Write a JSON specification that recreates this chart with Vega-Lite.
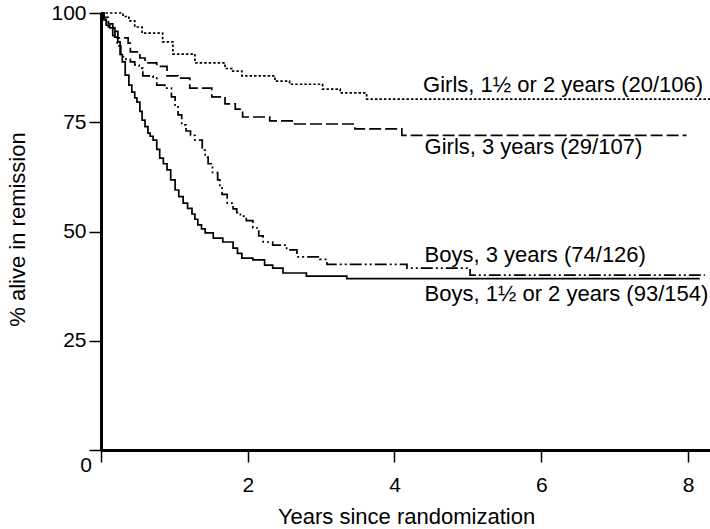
{
  "$schema": "https://vega.github.io/schema/vega-lite/v6.json",
  "autosize": "none",
  "width": 609,
  "height": 437,
  "padding": {"left": 101, "top": 13, "right": 0, "bottom": 79},
  "background": "white",
  "config": {
    "view": {"stroke": null},
    "font": "Liberation Sans",
    "axis": {"domainColor": "black", "tickColor": "black", "labelColor": "black", "titleColor": "black", "grid": false}
  },
  "layer": [
    {
      "data": {
        "values": [
          {"s": "G12", "x": 0, "y": 100}, {"s": "G12", "x": 0.30, "y": 99.2}, {"s": "G12", "x": 0.38, "y": 98.2}, {"s": "G12", "x": 0.46, "y": 96.8}, {"s": "G12", "x": 0.56, "y": 95.4}, {"s": "G12", "x": 0.84, "y": 93.4}, {"s": "G12", "x": 0.98, "y": 90.6}, {"s": "G12", "x": 1.28, "y": 88.6}, {"s": "G12", "x": 1.69, "y": 87.3}, {"s": "G12", "x": 1.78, "y": 86.7}, {"s": "G12", "x": 1.92, "y": 85.6}, {"s": "G12", "x": 2.37, "y": 84.4}, {"s": "G12", "x": 2.57, "y": 83.7}, {"s": "G12", "x": 3.02, "y": 82.6}, {"s": "G12", "x": 3.26, "y": 81.7}, {"s": "G12", "x": 3.62, "y": 80.3}, {"s": "G12", "x": 8.3, "y": 80.3},
          {"s": "G3", "x": 0, "y": 100}, {"s": "G3", "x": 0.04, "y": 99.0}, {"s": "G3", "x": 0.10, "y": 97.5}, {"s": "G3", "x": 0.16, "y": 95.8}, {"s": "G3", "x": 0.23, "y": 94.3}, {"s": "G3", "x": 0.37, "y": 93.1}, {"s": "G3", "x": 0.40, "y": 91.1}, {"s": "G3", "x": 0.53, "y": 89.7}, {"s": "G3", "x": 0.60, "y": 88.6}, {"s": "G3", "x": 0.76, "y": 87.8}, {"s": "G3", "x": 0.90, "y": 85.6}, {"s": "G3", "x": 1.05, "y": 85.1}, {"s": "G3", "x": 1.21, "y": 82.8}, {"s": "G3", "x": 1.51, "y": 80.8}, {"s": "G3", "x": 1.69, "y": 79.2}, {"s": "G3", "x": 1.83, "y": 78.0}, {"s": "G3", "x": 1.93, "y": 76.2}, {"s": "G3", "x": 2.30, "y": 75.3}, {"s": "G3", "x": 2.64, "y": 74.6}, {"s": "G3", "x": 3.46, "y": 73.5}, {"s": "G3", "x": 4.10, "y": 72.0}, {"s": "G3", "x": 7.98, "y": 72.0},
          {"s": "B3", "x": 0, "y": 100}, {"s": "B3", "x": 0.04, "y": 98.5}, {"s": "B3", "x": 0.10, "y": 96.8}, {"s": "B3", "x": 0.16, "y": 94.8}, {"s": "B3", "x": 0.22, "y": 92.5}, {"s": "B3", "x": 0.27, "y": 90.0}, {"s": "B3", "x": 0.34, "y": 89.4}, {"s": "B3", "x": 0.40, "y": 88.8}, {"s": "B3", "x": 0.46, "y": 88.1}, {"s": "B3", "x": 0.52, "y": 87.4}, {"s": "B3", "x": 0.57, "y": 85.6}, {"s": "B3", "x": 0.71, "y": 85.1}, {"s": "B3", "x": 0.76, "y": 83.5}, {"s": "B3", "x": 0.87, "y": 82.8}, {"s": "B3", "x": 0.96, "y": 80.8}, {"s": "B3", "x": 1.01, "y": 78.9}, {"s": "B3", "x": 1.05, "y": 76.7}, {"s": "B3", "x": 1.10, "y": 74.4}, {"s": "B3", "x": 1.16, "y": 73.0}, {"s": "B3", "x": 1.22, "y": 72.0}, {"s": "B3", "x": 1.28, "y": 70.9}, {"s": "B3", "x": 1.38, "y": 68.6}, {"s": "B3", "x": 1.42, "y": 67.0}, {"s": "B3", "x": 1.46, "y": 65.5}, {"s": "B3", "x": 1.52, "y": 63.5}, {"s": "B3", "x": 1.59, "y": 61.8}, {"s": "B3", "x": 1.62, "y": 60.0}, {"s": "B3", "x": 1.65, "y": 58.5}, {"s": "B3", "x": 1.72, "y": 56.5}, {"s": "B3", "x": 1.80, "y": 55.2}, {"s": "B3", "x": 1.85, "y": 54.3}, {"s": "B3", "x": 1.90, "y": 53.5}, {"s": "B3", "x": 1.98, "y": 52.5}, {"s": "B3", "x": 2.07, "y": 50.8}, {"s": "B3", "x": 2.15, "y": 49.0}, {"s": "B3", "x": 2.21, "y": 47.6}, {"s": "B3", "x": 2.34, "y": 46.9}, {"s": "B3", "x": 2.53, "y": 45.8}, {"s": "B3", "x": 2.67, "y": 44.2}, {"s": "B3", "x": 2.98, "y": 43.6}, {"s": "B3", "x": 3.08, "y": 42.5}, {"s": "B3", "x": 4.17, "y": 41.6}, {"s": "B3", "x": 5.03, "y": 40.0}, {"s": "B3", "x": 8.23, "y": 40.0},
          {"s": "B12", "x": 0, "y": 100}, {"s": "B12", "x": 0.03, "y": 98.5}, {"s": "B12", "x": 0.07, "y": 97.2}, {"s": "B12", "x": 0.12, "y": 96.6}, {"s": "B12", "x": 0.19, "y": 94.5}, {"s": "B12", "x": 0.23, "y": 93.4}, {"s": "B12", "x": 0.26, "y": 90.5}, {"s": "B12", "x": 0.29, "y": 88.8}, {"s": "B12", "x": 0.33, "y": 85.8}, {"s": "B12", "x": 0.38, "y": 83.5}, {"s": "B12", "x": 0.42, "y": 81.9}, {"s": "B12", "x": 0.46, "y": 80.6}, {"s": "B12", "x": 0.49, "y": 79.6}, {"s": "B12", "x": 0.53, "y": 77.5}, {"s": "B12", "x": 0.56, "y": 75.5}, {"s": "B12", "x": 0.60, "y": 74.0}, {"s": "B12", "x": 0.64, "y": 72.5}, {"s": "B12", "x": 0.67, "y": 71.8}, {"s": "B12", "x": 0.71, "y": 70.9}, {"s": "B12", "x": 0.76, "y": 68.8}, {"s": "B12", "x": 0.80, "y": 66.8}, {"s": "B12", "x": 0.85, "y": 65.5}, {"s": "B12", "x": 0.90, "y": 64.1}, {"s": "B12", "x": 0.95, "y": 61.8}, {"s": "B12", "x": 1.01, "y": 59.5}, {"s": "B12", "x": 1.06, "y": 58.0}, {"s": "B12", "x": 1.12, "y": 56.5}, {"s": "B12", "x": 1.18, "y": 55.3}, {"s": "B12", "x": 1.24, "y": 54.0}, {"s": "B12", "x": 1.28, "y": 52.8}, {"s": "B12", "x": 1.32, "y": 51.5}, {"s": "B12", "x": 1.37, "y": 50.6}, {"s": "B12", "x": 1.42, "y": 49.7}, {"s": "B12", "x": 1.53, "y": 48.5}, {"s": "B12", "x": 1.66, "y": 47.6}, {"s": "B12", "x": 1.80, "y": 46.2}, {"s": "B12", "x": 1.86, "y": 45.0}, {"s": "B12", "x": 1.92, "y": 43.9}, {"s": "B12", "x": 2.07, "y": 43.5}, {"s": "B12", "x": 2.23, "y": 42.3}, {"s": "B12", "x": 2.34, "y": 41.6}, {"s": "B12", "x": 2.48, "y": 40.5}, {"s": "B12", "x": 2.80, "y": 39.8}, {"s": "B12", "x": 3.35, "y": 39.2}, {"s": "B12", "x": 8.16, "y": 39.2}
        ]
      },
      "mark": {"type": "line", "interpolate": "step-after", "color": "black", "strokeWidth": 1.7},
      "encoding": {
        "x": {
          "field": "x", "type": "quantitative",
          "scale": {"domain": [0, 8.3], "nice": false, "zero": false},
          "axis": {
            "values": [0, 2, 4, 6, 8],
            "format": "d",
            "labelExpr": "datum.value == 0 ? '' : datum.label",
            "domainWidth": 3, "tickSize": 12, "tickWidth": 1.5,
            "labelFontSize": 21, "labelBaseline": "middle", "labelPadding": 23,
            "title": "Years since randomization", "titleFontSize": 22, "titleFontWeight": "normal",
            "titleBaseline": "alphabetic", "titleX": 305, "titleY": 73
          }
        },
        "y": {
          "field": "y", "type": "quantitative",
          "scale": {"domain": [0, 100], "nice": false},
          "axis": {
            "values": [0, 25, 50, 75, 100],
            "format": "d",
            "labelExpr": "datum.value == 0 ? '' : datum.label",
            "domainWidth": 3, "tickSize": 12, "tickWidth": 1.5,
            "labelFontSize": 21, "labelPadding": 3,
            "title": "% alive in remission", "titleFontSize": 22, "titleFontWeight": "normal",
            "titleBaseline": "middle", "titleX": -84, "titleY": 216
          }
        },
        "strokeDash": {
          "field": "s", "type": "nominal",
          "scale": {"domain": ["G12", "G3", "B3", "B12"], "range": [[2.5, 2], [12, 4], [12, 3, 2, 3, 2, 3], [1, 0]]},
          "legend": null
        }
      }
    },
    {
      "data": {
        "values": [
          {"label": "Girls, 1½ or 2 years (20/106)", "lx": 4.39, "ly": 83.6},
          {"label": "Girls, 3 years (29/107)", "lx": 4.41, "ly": 69.3},
          {"label": "Boys, 3 years (74/126)", "lx": 4.41, "ly": 44.6},
          {"label": "Boys, 1½ or 2 years (93/154)", "lx": 4.41, "ly": 35.7}
        ]
      },
      "mark": {"type": "text", "align": "left", "baseline": "middle", "fontSize": 22, "color": "black"},
      "encoding": {
        "x": {"field": "lx", "type": "quantitative"},
        "y": {"field": "ly", "type": "quantitative"},
        "text": {"field": "label"}
      }
    },
    {
      "data": {"values": [{"lx": 0, "ly": 0, "t": "0"}]},
      "mark": {"type": "text", "align": "center", "baseline": "middle", "fontSize": 21, "color": "black", "dx": -15, "dy": 16},
      "encoding": {
        "x": {"field": "lx", "type": "quantitative"},
        "y": {"field": "ly", "type": "quantitative"},
        "text": {"field": "t"}
      }
    }
  ]
}
